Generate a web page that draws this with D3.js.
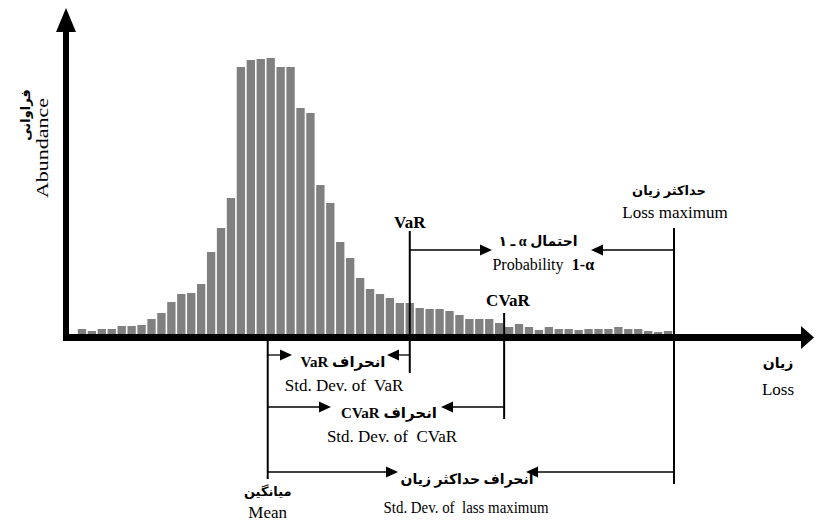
<!DOCTYPE html>
<html>
<head>
<meta charset="utf-8">
<script src="https://cdn.jsdelivr.net/npm/d3@7"></script>
<style>
  html, body { margin: 0; padding: 0; background: #fff; }
  svg { display: block; }
  .en { font-family: "Liberation Serif", "Times New Roman", serif; }
  .fa { font-family: "Liberation Serif", "DejaVu Sans", "Noto Sans", sans-serif; font-weight: bold; }
</style>
</head>
<body>
<svg id="chart" width="817" height="525"></svg>
<script>
// ---- data ----
// loss bins (index of each histogram bin)
const bins = d3.range(60);
// abundance of each bin
const abundance = [5, 3, 5, 5, 8, 8, 9, 15, 21, 32, 40, 41, 50, 82, 106, 136, 267, 274, 275, 276,
  267, 267, 226, 221, 149, 131, 92, 76, 56, 45, 40, 36, 31, 31, 26, 25, 25, 23, 19, 15,
  15, 15, 11, 7, 10, 7, 4, 7, 5, 5, 4, 5, 5, 5, 7, 5, 5, 3, 2, 3];
// marker positions on the loss axis (in bin units)
const markerNames = ["Mean", "VaR", "CVaR", "LossMax"];
const markerLoss = [19.2, 33.5, 43.0, 60.1];

// ---- scales ----
const svg = d3.select("#chart");
const x = d3.scaleLinear().domain([0, 60]).range([77, 673]);
const y = d3.scaleLinear().domain([0, 300]).range([334, 34]);
const m = {};
markerNames.forEach((n, i) => m[n] = x(markerLoss[i]));

// ---- bars ----
svg.append("g").selectAll("rect").data(bins).join("rect")
  .attr("x", d => x(d) + 0.8)
  .attr("width", d => x(d + 1) - x(d) - 1.6)
  .attr("y", d => y(abundance[d]))
  .attr("height", d => y(0) - y(abundance[d]))
  .attr("fill", "#808080");

// ---- axes ----
const axisG = svg.append("g");
axisG.append("line").attr("x1", 66).attr("x2", 66).attr("y1", 341).attr("y2", 28)
  .attr("stroke", "#000").attr("stroke-width", 6);
axisG.append("path").attr("d", "M56,32 L66,8 L76,32 Z").attr("fill", "#000");
axisG.append("line").attr("x1", 63).attr("x2", 804).attr("y1", 337.5).attr("y2", 337.5)
  .attr("stroke", "#000").attr("stroke-width", 7);
axisG.append("path").attr("d", "M801,326 L814,337.5 L801,349 Z").attr("fill", "#000");

// ---- marker vertical lines ----
const vlines = [
  ["Mean", 337, 479],
  ["VaR", 231, 373],
  ["CVaR", 313, 419],
  ["LossMax", 228, 484]
];
svg.append("g").selectAll("line").data(vlines).join("line")
  .attr("x1", d => m[d[0]]).attr("x2", d => m[d[0]])
  .attr("y1", d => d[1]).attr("y2", d => d[2])
  .attr("stroke", "#000").attr("stroke-width", 2);

// ---- arrows ----
function arrow(x1, x2, yy) {
  const dir = x2 > x1 ? 1 : -1;
  const L = 12, H = 5.5;
  svg.append("line").attr("x1", x1).attr("x2", x2 - dir * L).attr("y1", yy).attr("y2", yy)
    .attr("stroke", "#000").attr("stroke-width", 1.3);
  svg.append("path")
    .attr("d", `M${x2 - dir * L},${yy - H} L${x2},${yy} L${x2 - dir * L},${yy + H} Z`)
    .attr("fill", "#000");
}
arrow(m.VaR, 492, 250);
arrow(m.LossMax, 591, 250);
arrow(m.Mean, 292, 355);
arrow(m.VaR, 387, 355);
arrow(m.Mean, 331, 407);
arrow(m.CVaR, 441, 407);
arrow(m.Mean, 398, 472);
arrow(m.LossMax, 526, 472);

// ---- texts ----
function txt(s, xx, yy, cls, size, opts = {}) {
  const t = svg.append("text").attr("class", cls).attr("x", xx).attr("y", yy)
    .attr("text-anchor", opts.anchor || "middle")
    .attr("font-size", size).attr("fill", "#000").text(s);
  if (opts.bold) t.attr("font-weight", "bold");
  if (opts.rtl) t.attr("direction", "rtl");
  if (opts.rotate) t.attr("transform", `rotate(-90 ${xx} ${yy})`);
  if (opts.len) t.attr("textLength", opts.len).attr("lengthAdjust", "spacingAndGlyphs");
  return t;
}
const sp2 = "\u00a0 ";
// y axis label
txt("فراوانی", 30, 115, "fa", 13, { rotate: true, rtl: true });
txt("Abundance", 48, 148, "en", 17, { rotate: true, len: 100 });
// x axis label
txt("زیان", 778, 368, "fa", 14, { rtl: true });
txt("Loss", 778, 395, "en", 17);
// VaR / CVaR
txt("VaR", m.VaR, 228, "en", 17, { bold: true });
txt("CVaR", 508, 306, "en", 17, { bold: true });
// loss maximum
txt("حداکثر زیان", 669, 195, "fa", 13, { rtl: true });
txt("Loss maximum", 675, 218, "en", 17);
// probability
txt("احتمال α ـ ۱", 538, 246, "fa", 14, { rtl: true });
txt("Probability", 528, 270, "en", 16);
txt("1-α", 583, 270, "en", 16, { bold: true });
// std dev of VaR
txt("انحراف VaR", 343, 367, "fa", 15, { rtl: true });
txt("Std. Dev. of" + sp2 + "VaR", 344, 391, "en", 17);
// std dev of CVaR
txt("انحراف CVaR", 389, 418, "fa", 15, { rtl: true });
txt("Std. Dev. of" + sp2 + "CVaR", 392, 442, "en", 17);
// std dev of loss maximum
txt("انحراف حداکثر زیان", 467, 484, "fa", 14, { rtl: true });
txt("Std. Dev. of" + sp2 + "lass maximum", 466, 513, "en", 16, { len: 165 });
// mean
txt("میانگین", m.Mean, 496, "fa", 13, { rtl: true });
txt("Mean", m.Mean, 518, "en", 17);
</script>
</body>
</html>
